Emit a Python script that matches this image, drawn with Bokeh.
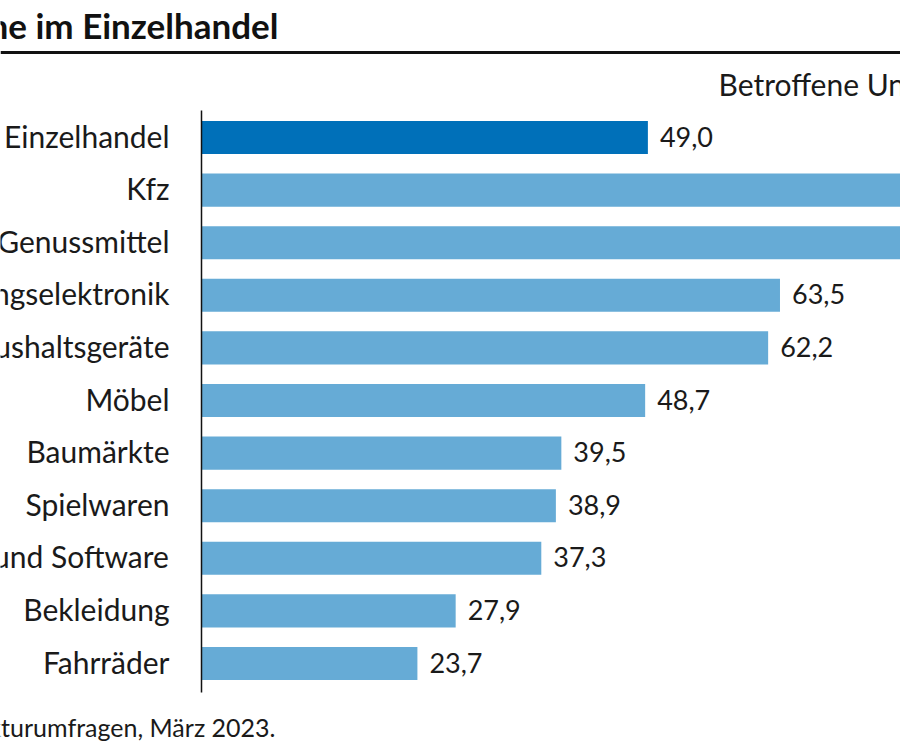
from bokeh.plotting import figure
from bokeh.models import Range1d, ColumnDataSource, Span
from bokeh.core.properties import value
from bokeh.embed import file_html
from bokeh.resources import INLINE

# ---- data ----
categories = ["Einzelhandel", "Kfz", "Nahrungs- und Genussmittel", "Unterhaltungselektronik",
              "Haushaltsgeräte", "Möbel", "Baumärkte", "Spielwaren", "Computer und Software",
              "Bekleidung", "Fahrräder"]
values = [49.0, 80.6, 78.3, 63.5, 62.2, 48.7, 39.5, 38.9, 37.3, 27.9, 23.7]
value_labels = ["49,0", "80,6", "78,3", "63,5", "62,2", "48,7", "39,5", "38,9", "37,3", "27,9", "23,7"]
title_text = "Lieferprobleme im Einzelhandel"
unit_text = "Betroffene Unternehmen in %"
source_text = "Quelle: ifo Konjunkturumfragen, März 2023."

# ---- layout constants (reference pixels) ----
W, H = 900, 750
PX_PER_UNIT = 9.11
AXIS_X = 201
ROW0 = 137
ROW_STEP = 52.6

def rx(px):
    return (px - AXIS_X) / PX_PER_UNIT

def ry(py):
    return (py - ROW0) / ROW_STEP

x_start = rx(0)
x_end = x_start + W / PX_PER_UNIT
y_top = ry(0)
y_bottom = y_top + H / ROW_STEP

p = figure(width=W, height=H, output_backend="svg", toolbar_location=None,
           x_range=Range1d(x_start, x_end), y_range=Range1d(y_bottom, y_top),
           x_axis_location=None, y_axis_location=None, min_border=0)
p.outline_line_color = None
p.xgrid.visible = False
p.ygrid.visible = False
p.background_fill_color = "white"

FONT = value("Lato")
colors = ["#0070b9"] + ["#66abd6"] * (len(categories) - 1)
src = ColumnDataSource(dict(y=list(range(len(categories))), v=values, cat=categories,
                            lab=value_labels, color=colors))

p.hbar(y="y", left=0, right="v", height=0.63, fill_color="color", line_color=None, source=src)

# axis line
p.segment(x0=[0], y0=[ry(110)], x1=[0], y1=[ry(692)], line_color="#111111", line_width=1.5)

# category labels
p.text(x=0, y="y", text="cat", source=src, x_offset=-32, y_offset=-2, text_align="right",
       text_baseline="middle", text_font=FONT, text_font_size="30px", text_color="#1a1a1a")
# value labels
p.text(x="v", y="y", text="lab", source=src, x_offset=12, y_offset=-1, text_align="left",
       text_baseline="middle", text_font=FONT, text_font_size="27px", text_color="#1a1a1a")

# title and rule
p.text(x=[rx(278)], y=[ry(24)], text=[title_text], text_align="right", text_baseline="middle",
       text_font=FONT, text_font_style="bold", text_font_size="35px", text_color="#111111")
p.add_layout(Span(location=ry(52), dimension="width", line_color="#111111", line_width=3))

# unit label
p.text(x=[rx(718)], y=[ry(83)], text=[unit_text], text_align="left", text_baseline="middle",
       text_font=FONT, text_font_size="30px", text_color="#1a1a1a")

# source
p.text(x=[rx(275)], y=[ry(726)], text=[source_text], text_align="right", text_baseline="middle",
       text_font=FONT, text_font_size="25px", text_color="#1a1a1a")

open("out.html", "w").write(file_html(p, INLINE))
